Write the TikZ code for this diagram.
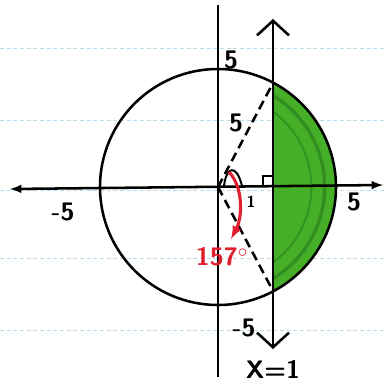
\documentclass[tikz,border=0pt]{standalone}
\usepackage{tikz}
\usetikzlibrary{arrows.meta}
\definecolor{paperblue}{RGB}{185,220,240}
\definecolor{leafgreen}{RGB}{70,175,40}
\definecolor{darkleaf}{RGB}{35,120,25}
\definecolor{penred}{RGB}{225,30,45}
\tikzset{
  hand/.style={font=\sffamily\bfseries\fontsize{19}{19}\selectfont},
  barb/.style={{Straight Barb[length=11pt,width=24pt]}-{Straight Barb[length=11pt,width=24pt]}},
  marker dash/.style={dash pattern=on 7pt off 4pt}
}

\begin{document}
\begin{tikzpicture}[x=0.75pt,y=-0.75pt,>=latex,line width=1.9pt]
  \useasboundingbox (0,0) rectangle (386,392);
  % ruled paper
  \foreach \yy in {48,120,190,258,330}
    \draw[paperblue,line width=0.7pt,densely dashed] (0,\yy) -- (386,\yy);
  \coordinate (O) at (218,187);
  \coordinate (P) at (273,83);
  \coordinate (Q) at (273,291);
  % shaded piece right of x=1
  \begin{scope}
    \clip (O) circle (88.5pt);
    \clip (273,0) rectangle (386,392);
    \fill[leafgreen] (273,0) rectangle (386,392);
    \draw[darkleaf,line width=2.5pt,opacity=0.6] (O) circle (80pt);
    \draw[darkleaf,line width=1.5pt,opacity=0.5] (O) circle (70pt);
  \end{scope}
  \draw (218,5) -- (218,377);
  \draw[<->] (10,189) -- (383,185);
  \draw (O) circle (88.5pt);
  \draw[barb] (273,19) -- (273,349) node[below=4pt,hand]{X=1};
  \draw[marker dash] (O) -- (P);
  \draw[marker dash] (O) -- (Q);
  \draw[line width=1.5pt] (263,187) -- (263,176) -- (273,176);
  % angle marks
  \draw[line width=1.5pt] (224,186) .. controls (226,168) and (236,162) .. (242,186);
  \draw[penred,line width=2.3pt,->] (229,172) .. controls (244,188) and (242,218) .. (231,239);
  \node[penred,hand] at (222,257) {157$^\circ$};
  \node[font=\sffamily\bfseries\fontsize{12}{12}\selectfont] at (251,202) {1};
  \node[hand] at (236,123) {5};
  \node[hand] at (231,60) {5};
  \node[hand] at (354,202) {5};
  \node[hand] at (63,212) {-5};
  \node[hand] at (244,328) {-5};
\end{tikzpicture}
\end{document}
